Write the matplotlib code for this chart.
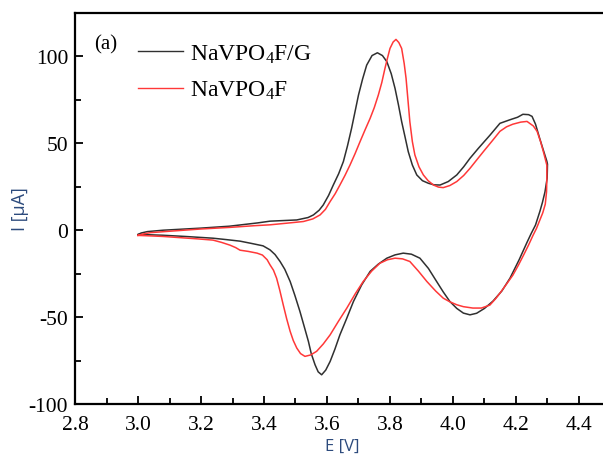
import matplotlib
matplotlib.use("Agg")
import matplotlib.pyplot as plt
from matplotlib.ticker import MultipleLocator

# cyclic voltammograms: potential (V) and current (uA), anodic sweep then cathodic sweep
e_g = [3.000, 3.010, 3.030, 3.080, 3.200, 3.290, 3.380, 3.419, 3.504, 3.540, 3.557,
       3.575, 3.588, 3.605, 3.620, 3.637, 3.652, 3.665, 3.678, 3.700, 3.713, 3.726,
       3.743, 3.760, 3.776, 3.790, 3.804, 3.816, 3.827, 3.837, 3.848, 3.858, 3.871,
       3.885, 3.903, 3.922, 3.940, 3.959, 3.985, 4.012, 4.034, 4.054, 4.080, 4.117,
       4.149, 4.180, 4.205, 4.222, 4.240, 4.251, 4.262, 4.275, 4.287, 4.298, 4.300,
       4.299, 4.292, 4.284, 4.276, 4.262, 4.248, 4.235, 4.210, 4.181, 4.155, 4.127,
       4.100, 4.075, 4.054, 4.033, 4.012, 3.990, 3.969, 3.948, 3.922, 3.895, 3.868,
       3.842, 3.816, 3.790, 3.763, 3.737, 3.710, 3.684, 3.662, 3.641, 3.625, 3.610,
       3.596, 3.583, 3.572, 3.562, 3.550, 3.541, 3.527, 3.514, 3.498, 3.483, 3.466,
       3.451, 3.435, 3.419, 3.397, 3.360, 3.324, 3.280, 3.238, 3.150, 3.079, 3.030,
       3.000]
i_g = [-2.5, -1.6, -0.8, 0.0, 1.2, 2.3, 4.2, 5.2, 5.9, 7.3, 8.8,
       11.5, 14.5, 20, 26, 32.5, 39.5, 48.5, 58.6, 77.8, 87, 95,
       100.5, 102.1, 100.5, 97, 90, 81.6, 72, 62.5, 53.5, 45.2, 37.5,
       31.8, 28.5, 27, 26.1, 26, 28, 31.8, 36.5, 41.4, 47, 54.6,
       61.5, 63.5, 65, 66.7, 66.5, 65.5, 61, 53, 46, 39.7, 38,
       30, 22, 16, 10.9, 3, -2, -7, -17, -27.6, -35, -40.8,
       -45, -47.8, -48.7, -47.7, -45, -41, -35.5, -29.5, -22, -16.1, -13.8,
       -13.2, -14.2, -16.1, -19.5, -23.7, -31.5, -41, -51, -60.2, -68.5, -75.5,
       -80.5, -83.2, -81.5, -77.4, -71, -64, -55, -46.7, -37.5, -29.5, -22.5,
       -18, -14, -11.3, -9.0, -7.6, -6.3, -5.4, -4.6, -3.6, -2.9, -2.6,
       -2.5]

e_p = [3.000, 3.015, 3.040, 3.100, 3.200, 3.290, 3.370, 3.419, 3.470, 3.525, 3.555,
       3.578, 3.595, 3.610, 3.626, 3.641, 3.657, 3.673, 3.689, 3.705, 3.721, 3.737,
       3.750, 3.763, 3.774, 3.784, 3.792, 3.800, 3.810, 3.819, 3.828, 3.837, 3.845,
       3.851, 3.857, 3.863, 3.871, 3.879, 3.892, 3.906, 3.921, 3.938, 3.954, 3.969,
       3.990, 4.012, 4.034, 4.054, 4.080, 4.100, 4.125, 4.149, 4.170, 4.190, 4.215,
       4.235, 4.255, 4.267, 4.278, 4.288, 4.298,
       4.298, 4.297, 4.293, 4.285, 4.275, 4.265, 4.254, 4.240, 4.225, 4.208, 4.190,
       4.170, 4.150, 4.135, 4.117, 4.090, 4.063, 4.033, 4.012, 3.990, 3.969, 3.945,
       3.917, 3.890, 3.863, 3.840, 3.816, 3.792, 3.768, 3.742, 3.715, 3.690, 3.663,
       3.636, 3.610, 3.588, 3.567, 3.548, 3.530, 3.516, 3.504, 3.493, 3.483, 3.472,
       3.461, 3.450, 3.440, 3.430, 3.419, 3.410, 3.395, 3.378, 3.350, 3.324, 3.310,
       3.292, 3.265, 3.238, 3.190, 3.150, 3.080, 3.030, 3.000]
i_p = [-3.0, -2.2, -1.4, -0.6, 0.7, 1.6, 2.6, 3.1, 4.0, 5.0, 6.5,
       8.8, 12, 16.5, 21, 26, 31.5, 37.5, 44, 51, 57.8, 64.4,
       70.5, 77.8, 85, 93.1, 99, 104.6, 108.3, 109.8, 108, 104.6, 96,
       87.4, 75, 62.5, 51, 43.3, 36.5, 31.8, 28.5, 26, 24.8, 24.5,
       25.7, 28, 31.5, 35.6, 41.5, 46, 51.5, 56.9, 59.5, 61, 62.2,
       62.6, 60, 56.9, 51, 44.5, 37.4,
       30, 22, 15, 10, 5.5, 1, -3, -8.5, -14, -20, -25.9,
       -31, -36, -39.5, -43.1, -44.8, -44.8, -44, -42.9, -41.2, -39.1, -35,
       -29.5, -23.5, -18, -16.5, -16.1, -17, -19, -23.5, -29.5, -36.5, -44.8,
       -52.5, -60.2, -65.5, -69.7, -71.8, -72.6, -71, -67.8, -63.5, -58.2, -51,
       -42.9, -34.5, -27.6, -23, -19.9, -17, -14.3, -13.2, -12.2, -11.5, -10,
       -8.6, -7, -5.7, -5.0, -4.5, -3.6, -3.2, -3.0]

labels = [r"NaVPO$_\mathregular{4}$F/G", r"NaVPO$_\mathregular{4}$F"]
x_ticks = [2.8, 3.0, 3.2, 3.4, 3.6, 3.8, 4.0, 4.2, 4.4]
y_ticks = [-100, -50, 0, 50, 100]

serif = ["Liberation Serif", "DejaVu Serif"]
label_color = "#2c4a7c"
plt.rcParams["mathtext.fontset"] = "custom"
plt.rcParams["mathtext.rm"] = "Liberation Serif"
plt.rcParams["mathtext.it"] = "Liberation Serif:italic"

fig = plt.figure(figsize=(6.03, 4.60), dpi=100)
ax = fig.add_axes([0.1244, 0.1196, 0.888, 0.850])

ax.plot(e_g, i_g, color="#303030", lw=1.1, label=labels[0], solid_joinstyle="round")
ax.plot(e_p, i_p, color="#ff3838", lw=1.1, label=labels[1], solid_joinstyle="round")

ax.set_xlim(2.8, 4.5)
ax.set_ylim(-100, 125)
ax.set_xticks(x_ticks)
ax.set_yticks(y_ticks)
ax.xaxis.set_minor_locator(MultipleLocator(0.1))
ax.yaxis.set_minor_locator(MultipleLocator(25))
ax.set_xticklabels([f"{v:.1f}" for v in x_ticks], fontfamily=serif, fontsize=15.5)
ax.set_yticklabels([str(v) for v in y_ticks], fontfamily=serif, fontsize=15.5)
ax.tick_params(axis="x", which="major", pad=8)
ax.tick_params(axis="y", which="major", pad=5)
ax.tick_params(which="major", direction="in", length=6, width=1.3)
ax.tick_params(which="minor", direction="in", length=4, width=1.3)
for s in ax.spines.values():
    s.set_linewidth(1.6)

ax.set_xlabel("E [V]", fontfamily="Open Sans", fontsize=12, color=label_color, labelpad=3)
ax.set_ylabel("I [\u03bcA]", fontfamily="Open Sans", fontsize=13, color=label_color, labelpad=0)

ax.text(2.862, 107.5, "(a)", fontfamily=serif, fontsize=15, va="center")
leg = ax.legend(loc="upper left", bbox_to_anchor=(0.095, 0.955), frameon=False,
                prop={"family": serif, "size": 17}, handlelength=1.9,
                handletextpad=0.3, labelspacing=0.6, borderpad=0)
for h in leg.get_lines():
    h.set_linewidth(1.0)

fig.savefig("out.png", dpi=100)
